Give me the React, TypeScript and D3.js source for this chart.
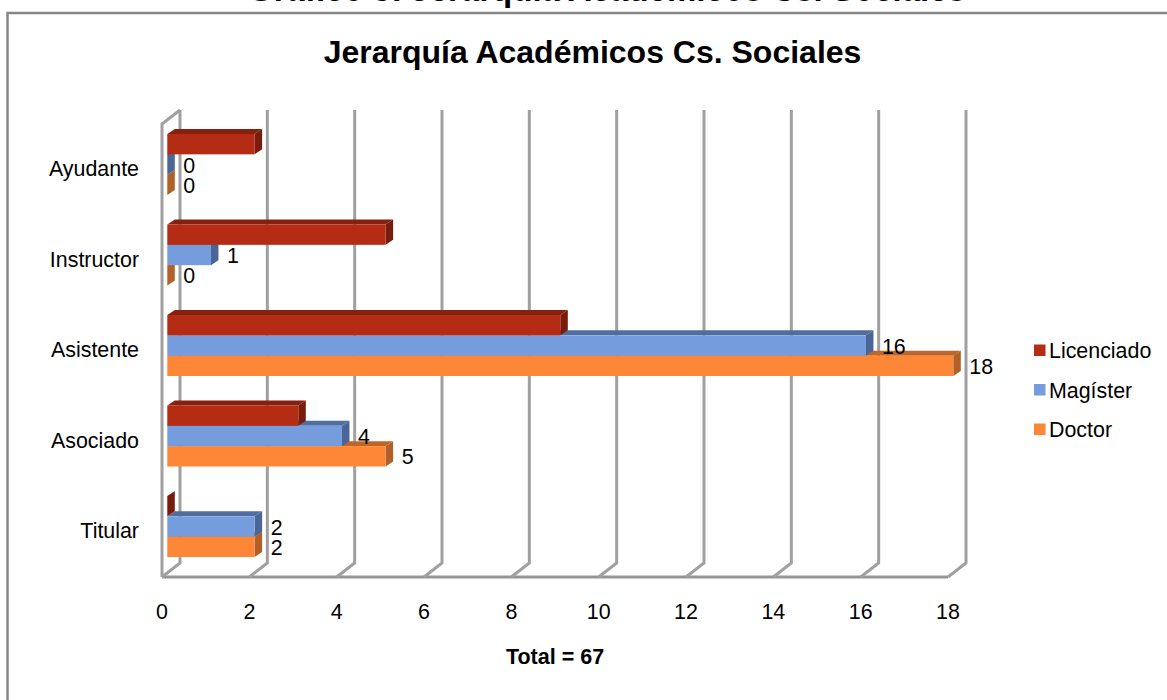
import React from 'react';
import * as d3 from 'd3';

const WIDTH = 1167;
const HEIGHT = 700;
const FONT = 'Liberation Sans, Arial, sans-serif';
const LABEL_SIZE = 21.4;

const categories = ['Ayudante', 'Instructor', 'Asistente', 'Asociado', 'Titular'];
const seriesNames = ['Licenciado', 'Magíster', 'Doctor'];
const licenciado = [2, 5, 9, 3, 0];
const magister = [0, 1, 16, 4, 2];
const doctor = [0, 0, 18, 5, 2];
const seriesValues = [licenciado, magister, doctor];
const showLabels = [false, true, true];
const xTicks = [0, 2, 4, 6, 8, 10, 12, 14, 16, 18];

// front / side / top shades per series
const colors = [
  { front: '#b52c14', side: '#7a1c0c', top: '#86200f' },
  { front: '#759cdc', side: '#4a6596', top: '#506da0' },
  { front: '#fe8637', side: '#b1602a', top: '#c0652a' },
];

const WALL_DX = 18;
const WALL_DY = 14;
const BAR_DX = 7.5;
const BAR_DY = 5;

const xScale = d3.scaleLinear().domain([0, 18]).range([162, 948]);
// bars sit a little behind the front of the floor
const barX = d3.scaleLinear().domain([0, 18]).range([167.3, 953.3]);
const yScale = d3.scaleBand().domain(categories).range([119.25, 571.75]);
const seriesScale = d3.scaleBand().domain(seriesNames).range([0, 61]);

const App = () => {
  const bandOffset = (yScale.bandwidth() - seriesScale.range()[1]) / 2;
  const floorY = 577;
  const wallTop = 124;

  return (
    <svg width={WIDTH} height={HEIGHT} style={{ position: 'absolute', left: 0, top: 0, background: '#fff' }}>
      <text x={607} y={1} textAnchor="middle" fontFamily={FONT} fontSize={33} fontWeight="bold" fill="#000">
        Gráfico 3: Jerarquía Académicos Cs. Sociales
      </text>
      <rect x={7.5} y={13} width={1180} height={700} fill="#fff" stroke="#868686" strokeWidth={2.5} />
      <text x={592.5} y={63} textAnchor="middle" fontFamily={FONT} fontSize={32} fontWeight="bold" fill="#000">
        Jerarquía Académicos Cs. Sociales
      </text>

      {/* walls and gridlines */}
      <g fill="none" stroke="#a0a0a0" strokeWidth={3}>
        <path d={`M${xScale(0)},${floorY}V${wallTop}l${WALL_DX},${-WALL_DY}`} />
        <path d={`M${xScale(0)},${floorY}H${xScale(18)}`} stroke="#969696" />
        {xTicks.map((t) => (
          <path
            key={t}
            d={`M${xScale(t)},${floorY}l${WALL_DX},${-WALL_DY}V${wallTop - WALL_DY}`}
          />
        ))}
      </g>

      {/* bars */}
      {categories.map((cat, i) => (
        <g key={cat}>
          {[...seriesNames.keys()].reverse().map((s) => {
            const name = seriesNames[s];
            const v = seriesValues[s][i];
            const c = colors[s];
            const x0 = barX(0);
            const x1 = barX(v);
            const y0 = yScale(cat)! + bandOffset + seriesScale(name)!;
            const h = seriesScale.bandwidth();
            return (
              <g key={name}>
                <path d={`M${x0},${y0}l${BAR_DX},${-BAR_DY}H${x1 + BAR_DX}l${-BAR_DX},${BAR_DY}Z`} fill={c.top} />
                <path d={`M${x1},${y0}l${BAR_DX},${-BAR_DY}v${h}l${-BAR_DX},${BAR_DY}Z`} fill={c.side} />
                <rect x={x0} y={y0} width={x1 - x0} height={h} fill={c.front} />
              </g>
            );
          })}
          {seriesNames.map((name, s) =>
            showLabels[s] ? (
              <text
                key={name}
                x={barX(seriesValues[s][i]) + 16}
                y={yScale(cat)! + bandOffset + seriesScale(name)! + seriesScale.bandwidth() / 2 + 8}
                fontFamily={FONT}
                fontSize={LABEL_SIZE}
                fill="#000"
              >
                {seriesValues[s][i]}
              </text>
            ) : null
          )}
        </g>
      ))}

      {/* category labels */}
      {categories.map((cat) => (
        <text
          key={cat}
          x={139}
          y={yScale(cat)! + yScale.bandwidth() / 2 + 6}
          dominantBaseline="middle"
          textAnchor="end"
          fontFamily={FONT}
          fontSize={LABEL_SIZE}
          fill="#000"
        >
          {cat}
        </text>
      ))}

      {/* x axis labels */}
      {xTicks.map((t) => (
        <text key={t} x={xScale(t)} y={619} textAnchor="middle" fontFamily={FONT} fontSize={LABEL_SIZE} fill="#000">
          {t}
        </text>
      ))}

      <text x={555} y={664} textAnchor="middle" fontFamily={FONT} fontSize={21.5} fontWeight="bold" fill="#000">
        Total = 67
      </text>

      {/* legend */}
      {seriesNames.map((name, s) => (
        <g key={name} transform={`translate(1034,${344.5 + s * 39.5})`}>
          <rect width={11.5} height={11.5} fill={colors[s].front} />
          <text x={15} y={13.5} fontFamily={FONT} fontSize={LABEL_SIZE} fill="#000">
            {name}
          </text>
        </g>
      ))}
    </svg>
  );
};

export default App;
